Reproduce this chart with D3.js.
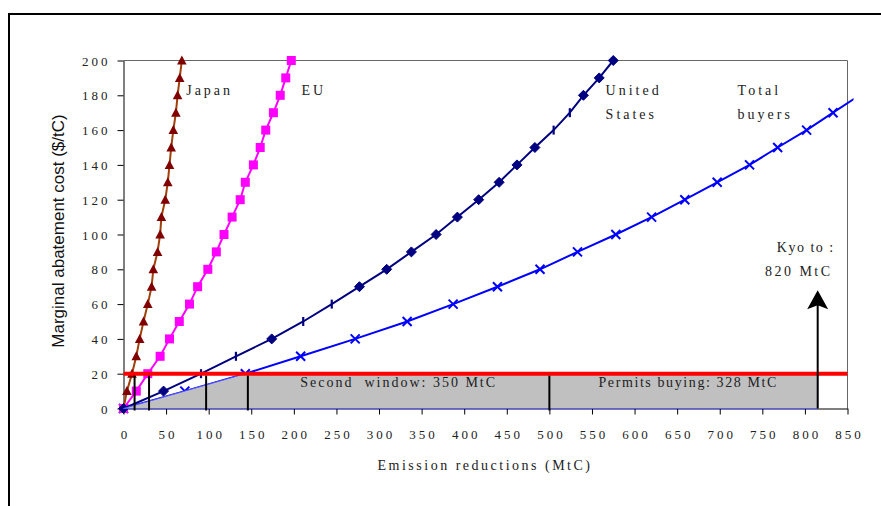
<!DOCTYPE html>
<html>
<head>
<meta charset="utf-8">
<script src="https://cdn.jsdelivr.net/npm/d3@7"></script>
<style>
  body { margin: 0; background: #fff; }
</style>
</head>
<body>
<div id="chart"></div>
<script>
// marginal abatement cost levels ($/tC), one point every 10
var costLevels = [0, 10, 20, 30, 40, 50, 60, 70, 80, 90, 100, 110, 120, 130, 140, 150, 160, 170, 180, 190, 200];

// emission reductions (MtC) reached at each cost level
var japanCuts = [0, 4, 10, 15, 19, 23.5, 28.5, 33, 35, 40, 43, 44.5, 49, 52, 54, 56, 58.5, 61.5, 63.5, 66, 68.5];
var euCuts = [0, 15, 28.5, 43, 54, 65.5, 77.5, 87, 99, 109, 118, 127.5, 137, 143, 152.5, 160.5, 167, 176, 184, 190.5, 197];
var usCuts = [0, 47, 91, 132, 174, 211, 244.5, 277, 309, 338, 367, 392, 417, 441, 462, 483, 505, 524, 540, 558.5, 575];
var totalCuts = [0, 72, 143, 208, 272, 333, 387, 439, 489, 533, 578, 620, 659, 697, 735, 768, 802, 833, 864];

// US points drawn with a dash instead of a diamond
var usDashLevels = [20, 30, 50, 60, 160, 170];

var xTicks = [0, 50, 100, 150, 200, 250, 300, 350, 400, 450, 500, 550, 600, 650, 700, 750, 800, 850];
var yTicks = [0, 20, 40, 60, 80, 100, 120, 140, 160, 180, 200];

var permitPrice = 20;
var crossings = [13, 30, 97, 146, 500];
var kyotoTarget = 815;
var kyotoArrowTop = 68;

var SERIF = "'Liberation Serif', 'Times New Roman', serif";

var margin = {top: 60.5, left: 123.5},
    width = 724,
    height = 348;

var svg = d3.select("#chart").append("svg")
    .attr("width", 881)
    .attr("height", 506);

// outer frame, runs off the page on the right and bottom
svg.append("rect")
    .attr("x", 9).attr("y", 14)
    .attr("width", 1000).attr("height", 1000)
    .attr("fill", "none")
    .attr("stroke", "#000")
    .attr("stroke-width", 2);

var g = svg.append("g")
    .attr("transform", "translate(" + margin.left + "," + margin.top + ")");

var x = d3.scaleLinear().domain([0, 850]).range([0, width]);
var y = d3.scaleLinear().domain([0, 200]).range([height, 0]);

// total line pokes a few px past the right border, then stops
svg.append("defs").append("clipPath")
    .attr("id", "clip")
  .append("rect")
    .attr("x", -10).attr("y", -10)
    .attr("width", width + 16).attr("height", height + 20);

// plot border (top and right)
g.append("path")
    .attr("d", "M0,0H" + width + "V" + height)
    .attr("fill", "none")
    .attr("stroke", "#666")
    .attr("stroke-width", 1);

var xAxis = g.append("g")
    .attr("transform", "translate(0," + height + ")")
    .call(d3.axisBottom(x).tickValues(xTicks).tickSize(6).tickPadding(15).tickSizeOuter(0));

var yAxis = g.append("g")
    .call(d3.axisLeft(y).tickValues(yTicks).tickSize(6).tickPadding(8).tickSizeOuter(0));

[xAxis, yAxis].forEach(function(a) {
  a.attr("font-family", null).attr("font-size", null);
  a.select(".domain").attr("stroke", "#000");
  a.selectAll(".tick line").attr("stroke", "#000");
  a.selectAll(".tick text")
    .style("font-family", SERIF)
    .style("font-size", "13px")
    .style("letter-spacing", "3px")
    .attr("fill", "#222");
});
xAxis.selectAll(".tick text").attr("dx", "1.5px");
yAxis.selectAll(".tick text").attr("dx", "1px").attr("dy", "0.36em");

function pts(cuts) {
  return cuts.map(function(c, i) { return {x: c, y: costLevels[i]}; });
}

var line = d3.line()
    .x(function(d) { return x(d.x); })
    .y(function(d) { return y(d.y); });

// Total buyers
var totalPts = pts(totalCuts);
g.append("path")
    .datum(totalPts)
    .attr("clip-path", "url(#clip)")
    .attr("fill", "none")
    .attr("stroke", "#0000ff")
    .attr("stroke-width", 2)
    .attr("d", line);

g.selectAll(".xmark")
    .data(totalPts.filter(function(d) { return x(d.x) <= width; }))
    .enter().append("path")
    .attr("class", "xmark")
    .attr("transform", function(d) { return "translate(" + x(d.x) + "," + y(d.y) + ")"; })
    .attr("d", "M-4.5,-4.5L4.5,4.5M-4.5,4.5L4.5,-4.5")
    .attr("stroke", "#0000ff")
    .attr("stroke-width", 2);

// Japan
var japanPts = pts(japanCuts);
g.append("path")
    .datum(japanPts)
    .attr("fill", "none")
    .attr("stroke", "#a0400a")
    .attr("stroke-width", 2)
    .attr("d", line);

g.selectAll(".tri")
    .data(japanPts)
    .enter().append("path")
    .attr("class", "tri")
    .attr("transform", function(d) { return "translate(" + x(d.x) + "," + y(d.y) + ")"; })
    .attr("d", "M0,-5L4.8,4L-4.8,4Z")
    .attr("fill", "#800000");

// EU
var euPts = pts(euCuts);
g.append("path")
    .datum(euPts)
    .attr("fill", "none")
    .attr("stroke", "#ff00ff")
    .attr("stroke-width", 2)
    .attr("d", line);

g.selectAll(".sq")
    .data(euPts)
    .enter().append("rect")
    .attr("class", "sq")
    .attr("x", function(d) { return x(d.x) - 4.5; })
    .attr("y", function(d) { return y(d.y) - 4.5; })
    .attr("width", 9)
    .attr("height", 9)
    .attr("fill", "#ff00ff");

// United States
var usPts = pts(usCuts);
g.append("path")
    .datum(usPts)
    .attr("fill", "none")
    .attr("stroke", "#000080")
    .attr("stroke-width", 2)
    .attr("d", line);

g.selectAll(".us")
    .data(usPts)
    .enter().append("path")
    .attr("class", "us")
    .attr("transform", function(d) { return "translate(" + x(d.x) + "," + y(d.y) + ")"; })
    .each(function(d) {
      var dash = usDashLevels.indexOf(d.y) >= 0;
      d3.select(this)
        .attr("d", dash ? "M0,-4.5V4.5" : "M0,-5L5,0L0,5L-5,0Z")
        .attr("fill", dash ? "none" : "#000080")
        .attr("stroke", "#000080")
        .attr("stroke-width", dash ? 2.2 : 1)
        .attr("stroke-linejoin", "round");
    });

// shaded area under the permit price
var shade = totalPts.filter(function(d) { return d.y <= permitPrice; })
    .concat([{x: kyotoTarget, y: permitPrice}, {x: kyotoTarget, y: 0}]);
g.append("path")
    .datum(shade)
    .attr("fill", "#c0c0c0")
    .attr("stroke", "#5a5aff")
    .attr("stroke-width", 1)
    .attr("d", line.curve(d3.curveLinearClosed));
line.curve(d3.curveLinear);

// permit price line
g.append("line")
    .attr("x1", 0).attr("x2", width)
    .attr("y1", y(permitPrice)).attr("y2", y(permitPrice))
    .attr("stroke", "#ff0000")
    .attr("stroke-width", 4);

g.selectAll(".cross")
    .data(crossings)
    .enter().append("line")
    .attr("class", "cross")
    .attr("x1", function(d) { return x(d); })
    .attr("x2", function(d) { return x(d); })
    .attr("y1", y(0) + 2)
    .attr("y2", y(permitPrice) + 2)
    .attr("stroke", "#000")
    .attr("stroke-width", 2);

// Kyoto arrow
g.append("line")
    .attr("x1", x(kyotoTarget)).attr("x2", x(kyotoTarget))
    .attr("y1", y(0)).attr("y2", y(kyotoArrowTop) + 8)
    .attr("stroke", "#000")
    .attr("stroke-width", 2);
g.append("path")
    .attr("transform", "translate(" + x(kyotoTarget) + "," + y(kyotoArrowTop) + ")")
    .attr("d", "M0,0L10.5,19L0,15L-10.5,19Z")
    .attr("fill", "#000");

// labels
function label(txt, vx, vy, anchor) {
  return g.append("text")
    .attr("x", x(vx))
    .attr("y", y(vy))
    .attr("text-anchor", anchor || "start")
    .attr("fill", "#222")
    .style("font-family", SERIF)
    .style("font-size", "14px")
    .style("letter-spacing", "3px")
    .text(txt);
}

label("Japan", 73.6, 180);
label("EU", 209, 180);
label("United", 566, 180);
label("States", 566, 166.5);
label("Total", 721, 180);
label("buyers", 721, 166.5);
label("Kyo to :", 767, 90).style("letter-spacing", "1.5px");
label("820 MtC", 753, 76).style("letter-spacing", "2.5px");
label("Second  window: 350 MtC", 323, 12.2, "middle").style("letter-spacing", "2px").style("white-space", "pre");
label("Permits buying: 328 MtC", 663, 12.2, "middle").style("letter-spacing", "1.6px");

svg.append("text")
    .attr("x", 485)
    .attr("y", 470)
    .attr("text-anchor", "middle")
    .attr("fill", "#222")
    .style("font-family", SERIF)
    .style("font-size", "14px")
    .style("letter-spacing", "2.5px")
    .text("Emission reductions (MtC)");

svg.append("text")
    .attr("transform", "translate(64,231) rotate(-90)")
    .attr("text-anchor", "middle")
    .style("font-family", "'Liberation Sans', Arial, sans-serif")
    .style("font-size", "17px")
    .attr("fill", "#111")
    .text("Marginal abatement cost ($/tC)");
</script>
</body>
</html>
